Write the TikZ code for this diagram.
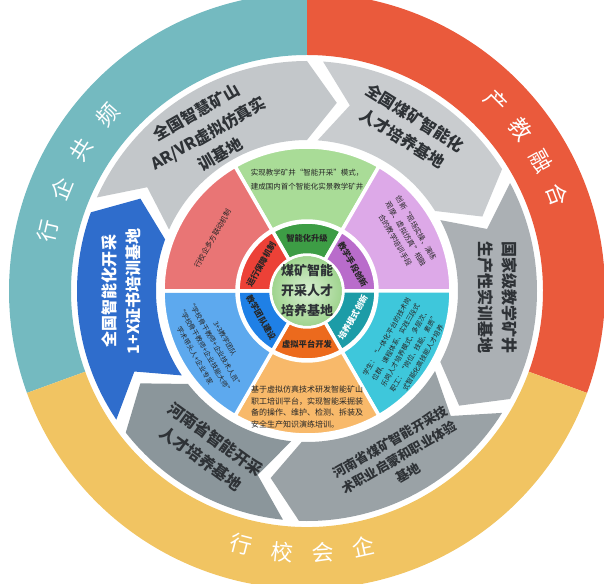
\documentclass[tikz,border=0pt]{standalone}
\usepackage{fontspec}
\setmainfont{Noto Sans CJK SC}
\usetikzlibrary{positioning}

\definecolor{ringteal}{HTML}{74BAC0}
\definecolor{ringred}{HTML}{EA5A3C}
\definecolor{ringyellow}{HTML}{F1C462}
\definecolor{bandA}{HTML}{C3C7CA}
\definecolor{bandB}{HTML}{C9CCCF}
\definecolor{bandC}{HTML}{ABB0B4}
\definecolor{bandD}{HTML}{9AA2A6}
\definecolor{bandE}{HTML}{8B969B}
\definecolor{bandF}{HTML}{2F6DCC}
\definecolor{secgreen}{HTML}{A9DC97}
\definecolor{secviolet}{HTML}{DDA9E8}
\definecolor{seccyan}{HTML}{3EC7DB}
\definecolor{secorange}{HTML}{F8B96A}
\definecolor{secblue}{HTML}{5DA9EE}
\definecolor{secred}{HTML}{E97575}
\definecolor{midgreen}{HTML}{3D9D45}
\definecolor{midviolet}{HTML}{B96CCB}
\definecolor{midteal}{HTML}{1C9CA7}
\definecolor{midorange}{HTML}{EC6A1D}
\definecolor{midblue}{HTML}{1F80E6}
\definecolor{midred}{HTML}{EC4137}
\definecolor{hubgreen}{HTML}{9FD48E}
\definecolor{inktext}{HTML}{2E3236}

% ring piece: style, from, to, inner, outer
\newcommand{\ringpiece}[5]{%
  \path[#1] (#2:#5) arc[start angle=#2, end angle=#3, radius=#5]
    -- (#3:#4) arc[start angle=#3, end angle=#2, radius=#4] -- cycle;}
% chevron of the middle band: colour, from, to (clockwise)
\newcommand{\bandpiece}[3]{%
  \fill[#1] (#2-2:230) arc[start angle=#2-2, end angle=#3+2, radius=230]
    -- (#3-7:190.5) -- (#3+2:151) arc[start angle=#3+2, end angle=#2-2, radius=151]
    -- (#2-11:190.5) -- cycle;}

\tikzset{
  sectorline/.style={draw=white, line width=3.5pt, line join=round},
  ringtext/.style={text=white, font=\fontsize{22}{22}\selectfont, inner sep=0pt},
  bandtext/.style={text=inktext, font=\bfseries\fontsize{16}{24}\selectfont, align=center, inner sep=0pt},
  sectext/.style={text=black!85, font=\fontsize{7.3}{12}\selectfont, align=center, inner sep=0pt},
  midtext/.style={text=black!85, font=\bfseries\fontsize{8.3}{8.3}\selectfont, inner sep=0pt},
  hubtext/.style={text=inktext, font=\bfseries\fontsize{13}{20}\selectfont, align=center, inner sep=0pt},
}

\begin{document}
\begin{tikzpicture}[x=1pt, y=1pt]
  \useasboundingbox (-307,-292) rectangle (297,291);
  \clip (-307,-292) rectangle (297,291);

  % outer ring
  \ringpiece{fill=ringteal}{90}{200}{236}{298}
  \ringpiece{fill=ringred}{-20}{90}{236}{298}
  \ringpiece{fill=ringyellow}{200}{340}{236}{298}

  % chevron band
  \bandpiece{bandA}{158}{88}
  \bandpiece{bandB}{88}{30}
  \bandpiece{bandC}{30}{-30}
  \bandpiece{bandD}{-30}{-94}
  \bandpiece{bandE}{-94}{-144}
  \bandpiece{bandF}{216}{158}

  % inner sectors
  \foreach \col/\a in {secgreen/60, secviolet/0, seccyan/-60, secorange/-120, secblue/180, secred/120}
    {\ringpiece{fill=\col, sectorline}{\a}{\a+60}{70}{144}}
  \foreach \col/\a in {midgreen/60, midviolet/0, midteal/-60, midorange/-120, midblue/180, midred/120}
    {\ringpiece{fill=\col, sectorline}{\a}{\a+60}{36}{69}}

  % hub
  \shade[inner color=white!60!hubgreen, outer color=hubgreen] (0,0) circle (35);
  \draw[white, line width=2pt] (0,0) circle (36);
  \node[hubtext] (hub) at (0,0) {煤矿智能\\开采人才\\培养基地};

  % outer ring words
  \foreach \ch/\ang [count=\i] in {行/167, 企/157.5, 共/148, 频/138.5}
    \node[ringtext, rotate=\ang-90] (lw\i) at (\ang:266) {\ch};
  \foreach \ch/\ang [count=\i] in {产/45, 教/37, 融/29, 合/21}
    \node[ringtext, rotate=\ang-90] (rw\i) at (\ang:268) {\ch};
  \foreach \ch/\ang [count=\i] in {行/-104.5, 校/-95.5, 会/-86.5, 企/-77.5}
    \node[ringtext, rotate=\ang+90] (bw\i) at (\ang:262) {\ch};

  % band labels
  \node[bandtext, rotate=30] (band1) at (122:186) {全国智慧矿山\\AR/VR虚拟仿真实\\训基地};
  \node[bandtext, rotate=-32] (band2) at (58:192) {全国煤矿智能化\\人才培养基地};
  \node[bandtext, rotate=-90] (band3) at (-2:191) {国家级教学矿井\\生产性实训基地};
  \node[bandtext, font=\bfseries\fontsize{13}{18}\selectfont, rotate=30] (band4) at (-61:190) {河南省煤矿智能开采技\\术职业启蒙和职业体验\\基地};
  \node[bandtext, rotate=-36] (band5) at (-122:186) {河南省智能开采\\人才培养基地};
  \node[bandtext, text=white, rotate=90] (band6) at (180:186) {全国智能化开采\\1+X证书培训基地};

  % sector texts
  \node[sectext, font=\fontsize{7.5}{14}\selectfont] (sec1) at (90:111) {实现教学矿井“智能开采”模式，\\建成国内首个智能化实景教学矿井};
  \node[sectext, rotate=-60] (sec2) at (30:114) {创新“现场实操、演练\\观摩、虚拟仿真”相融\\合的教学培训手段};
  \node[sectext, font=\fontsize{6.8}{10.5}\selectfont, rotate=60] (sec3) at (-30:113) {学生：“一体化平台的技术岗\\位群、课程体系、实践三段式\\乐岗人才培养模式、多层次、\\职工：“岗位、技能、素质”\\式智能化高技能人才培养};
  \node[sectext, font=\fontsize{8}{11.5}\selectfont, align=left] (sec4) at (-90:116) {基于虚拟仿真技术研发智能矿山\\职工培训平台，实现智能采掘装\\备的操作、维护、检测、拆装及\\安全生产知识演练培训。};
  \node[sectext, font=\fontsize{6.8}{11.5}\selectfont, rotate=-60] (sec5) at (210:112) {3+3教学团队\\“学校骨干教师+企业技术人员”\\“学校骨干教师+企业技能大师”\\学术带头人+企业专家};
  \node[sectext, rotate=60] (sec6) at (151:108) {行校企多方联动机制};

  % middle ring labels
  \node[midtext] (mid1) at (90:53) {智能化升级};
  \node[midtext, rotate=-60] (mid2) at (30:53) {教学手段创新};
  \node[midtext, text=white, rotate=60] (mid3) at (-30:53) {培养模式创新};
  \node[midtext] (mid4) at (-90:53) {虚拟平台开发};
  \node[midtext, rotate=-60] (mid5) at (210:53) {教学团队建设};
  \node[midtext, rotate=60] (mid6) at (150:53) {运行保障机制};
\end{tikzpicture}
\end{document}
